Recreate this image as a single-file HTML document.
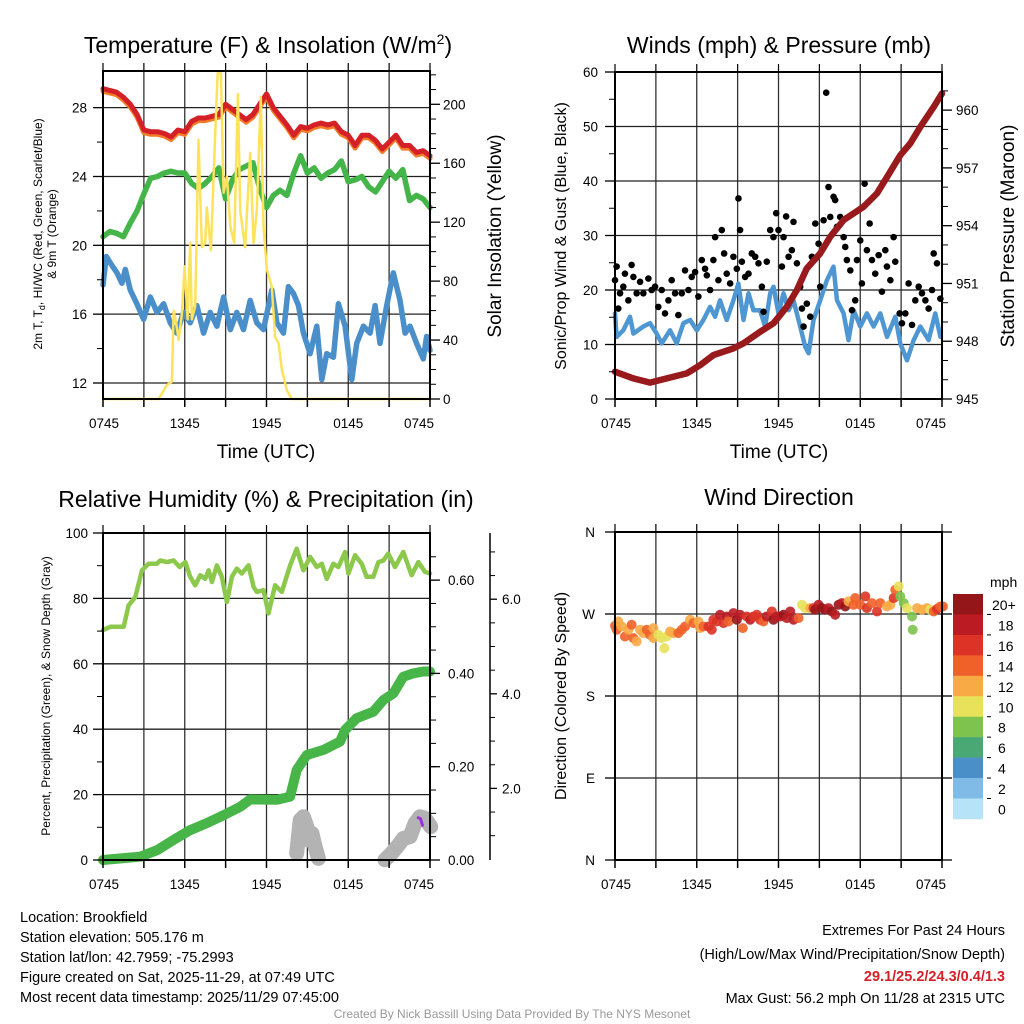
<!DOCTYPE html>
<html><head><meta charset="utf-8"><style>
html,body{margin:0;padding:0;background:#fff;}
svg{display:block;font-family:"Liberation Sans",sans-serif;}
</style></head><body>
<svg id="c" width="1024" height="1024" viewBox="0 0 1024 1024">
<g id="grid"></g>
<g id="marks"></g>
<g id="axes"></g>
<g id="txt">
<text x="268" y="53" font-size="23" text-anchor="middle">Temperature (F) &amp; Insolation (W/m<tspan dy="-9" font-size="14">2</tspan><tspan dy="9">)</tspan></text>
<text x="779" y="53" font-size="23" text-anchor="middle">Winds (mph) &amp; Pressure (mb)</text>
<text x="266" y="507" font-size="23" text-anchor="middle">Relative Humidity (%) &amp; Precipitation (in)</text>
<text x="779" y="505" font-size="23" text-anchor="middle">Wind Direction</text>
<text x="266" y="458" font-size="19" text-anchor="middle">Time (UTC)</text>
<text x="779" y="458" font-size="19" text-anchor="middle">Time (UTC)</text>
<text transform="translate(42,234) rotate(-90)" font-size="12" text-anchor="middle">2m T, T<tspan dy="3" font-size="9">d</tspan><tspan dy="-3">, HI/WC (Red, Green, Scarlet/Blue)</tspan></text>
<text transform="translate(56,234) rotate(-90)" font-size="12" text-anchor="middle">&amp; 9m T (Orange)</text>
<text transform="translate(501,236) rotate(-90)" font-size="19" text-anchor="middle">Solar Insolation (Yellow)</text>
<text transform="translate(566,236) rotate(-90)" font-size="16" text-anchor="middle">Sonic/Prop Wind &amp; Gust (Blue, Black)</text>
<text transform="translate(1014,236) rotate(-90)" font-size="19" text-anchor="middle">Station Pressure (Maroon)</text>
<text transform="translate(50,696) rotate(-90)" font-size="12" text-anchor="middle">Percent, Precipitation (Green), &amp; Snow Depth (Gray)</text>
<text transform="translate(566,696) rotate(-90)" font-size="16" text-anchor="middle">Direction (Colored By Speed)</text>
<text x="990" y="587" font-size="14">mph</text>
<g font-size="14.5">
<text x="20" y="922">Location: Brookfield</text>
<text x="20" y="942">Station elevation: 505.176 m</text>
<text x="20" y="962">Station lat/lon: 42.7959; -75.2993</text>
<text x="20" y="982">Figure created on Sat, 2025-11-29, at 07:49 UTC</text>
<text x="20" y="1002">Most recent data timestamp: 2025/11/29 07:45:00</text>
</g>
<g font-size="14.5" text-anchor="end">
<text x="1005" y="935">Extremes For Past 24 Hours</text>
<text x="1005" y="959">(High/Low/Max Wind/Precipitation/Snow Depth)</text>
<text x="1005" y="981" fill="#d42027" font-weight="bold">29.1/25.2/24.3/0.4/1.3</text>
<text x="1005" y="1003">Max Gust: 56.2 mph On 11/28 at 2315 UTC</text>
</g>
<text x="512" y="1018" font-size="12" fill="#999" text-anchor="middle">Created By Nick Bassill Using Data Provided By The NYS Mesonet</text>
</g>
</svg>
<script>
// ---------- DATA ----------
const halfHours = [0,0.5,1,1.5,2,2.5,3,3.5,4,4.5,5,5.5,6,6.5,7,7.5,8,8.5,9,9.5,10,10.5,11,11.5,12,12.5,13,13.5,14,14.5,15,15.5,16,16.5,17,17.5,18,18.5,19,19.5,20,20.5,21,21.5,22,22.5,23,23.5,24];
const tempRed = [29.1,29.0,28.9,28.6,28.2,27.6,26.7,26.6,26.6,26.5,26.3,26.7,26.6,27.2,27.4,27.4,27.5,27.6,28.2,27.9,27.6,27.3,27.6,28.2,28.8,28.0,27.5,27.0,26.4,26.9,26.8,27.0,27.1,27.0,27.1,26.6,26.4,25.8,26.4,26.4,26.1,25.6,26.0,26.4,25.8,25.8,25.4,25.5,25.2];
const temp9m = [28.95,28.85,28.75,28.45,28.05,27.45,26.55,26.45,26.45,26.35,26.15,26.55,26.45,27.05,27.25,27.25,27.35,27.45,28.05,27.75,27.45,27.15,27.45,28.05,28.65,27.85,27.35,26.85,26.25,26.75,26.65,26.85,26.95,26.85,26.95,26.45,26.25,25.65,26.25,26.25,25.95,25.45,25.85,26.25,25.65,25.65,25.25,25.35,25.05];
const dewGreen = [20.5,20.8,20.7,20.5,21.3,22.0,23.0,23.9,24.0,24.2,24.3,24.2,24.2,23.6,23.3,23.6,24.0,24.5,22.7,23.8,24.4,24.6,24.8,23.3,22.2,22.9,23.2,22.9,24.2,25.2,24.2,24.5,23.9,24.2,24.4,24.9,23.7,23.8,24.0,23.4,23.1,23.7,24.3,23.9,24.4,22.6,22.9,22.7,22.2];
const wcHours = [0,0.24,0.54,1.03,1.39,1.64,2.0,2.49,2.98,3.47,3.96,4.45,4.94,5.42,5.91,6.4,6.89,7.38,7.87,8.36,8.85,9.34,9.82,10.31,10.8,11.29,11.78,12.39,12.76,13.25,13.61,13.98,14.35,14.71,15.2,15.69,16.06,16.42,16.91,17.28,17.77,18.26,18.62,19.11,19.6,19.97,20.33,20.82,21.31,21.8,22.17,22.53,23.02,23.51,23.75,24];
const wcBlue = [17.7,19.35,18.97,18.4,17.8,18.6,17.4,16.6,15.7,17.0,16.1,16.6,15.5,14.9,16.1,15.5,16.5,14.9,16.1,15.3,17.0,15.1,16.1,15.1,16.8,15.5,15.1,17.4,15.5,14.9,17.6,17.2,16.5,14.9,13.7,15.3,12.2,13.7,13.5,16.6,15.3,12.2,14.3,15.3,14.9,16.5,14.3,16.5,18.4,16.8,14.9,15.3,14.3,13.4,14.7,13.9];
const solHours = [0,4.08,4.33,4.69,5.06,5.18,5.38,5.55,5.79,5.99,6.21,6.4,6.52,6.77,7.01,7.26,7.5,7.62,7.92,8.16,8.41,8.65,8.85,9.09,9.34,9.63,9.9,10.07,10.43,10.8,11.05,11.29,11.58,11.78,12.02,12.39,12.63,12.88,13.12,13.49,13.86,24];
const solar = [0,0,3.8,9.5,11.8,60,51,40,58,90,54,106,54,63,176,103,106,130,101,162,221,221,140,151,117,106,207,128,103,167,106,128,205,117,88,76,42,38,20,6,0,0];
const presHours = [0,1.35,2.57,3.80,5.27,6.25,7.22,8.69,9.43,10.65,11.63,12.61,13.35,14.08,15.06,15.8,16.78,18.24,19.22,20.2,20.94,21.67,22.41,23.39,24];
const pressure = [946.42,946.07,945.85,946.07,946.33,946.76,947.28,947.63,947.89,948.49,948.93,949.79,950.66,951.78,952.56,953.43,954.29,954.98,955.67,956.8,957.66,958.27,959.13,960.17,960.87];
const windHours = [0,0.12,0.61,1.1,1.35,2.08,2.57,3.06,3.43,4.04,4.53,5.02,5.51,6.0,6.49,6.98,7.35,7.71,8.2,8.69,9.06,9.43,9.8,10.16,10.65,11.02,11.39,11.63,12.0,12.37,12.74,13.1,13.59,13.96,14.21,14.57,15.06,15.55,16.04,16.29,16.78,17.14,17.51,18.0,18.49,18.98,19.47,19.96,20.57,20.94,21.43,21.92,22.41,23.02,23.51,23.88];
const windSpeed = [15.7,11.4,12.6,15.1,12.0,13.3,13.9,12.0,10.2,12.6,10.2,13.9,14.5,12.6,14.5,16.9,15.1,18.1,14.5,18.1,21.2,14.5,19.4,16.3,16.3,13.3,19.4,20.6,15.7,19.4,16.3,18.1,13.3,9.6,8.4,14.5,18.1,21.8,24.3,18.1,15.7,10.8,16.3,13.3,15.7,13.3,15.7,11.4,15.1,10.2,7.1,10.8,13.3,10.8,15.7,11.4];
const gustHours = [0,0.12,0.24,0.37,0.61,0.73,0.98,1.22,1.35,1.59,
1.84,2.08,2.45,2.69,2.94,3.18,3.43,3.67,3.92,4.16,
4.41,4.65,4.9,5.14,5.39,5.63,5.88,6.12,6.37,6.61,
6.74,6.98,7.22,7.35,7.59,7.84,8.01,8.2,8.45,8.69,
8.94,9.06,9.18,9.31,9.55,9.8,10.04,10.29,10.53,10.78,
10.9,11.14,11.39,11.63,11.83,12.0,12.25,12.37,12.56,12.74,
12.98,13.1,13.35,13.59,13.72,13.84,14.08,14.33,14.45,14.7,
14.94,15.06,15.31,15.5,15.67,15.8,16.04,16.16,16.29,16.53,
16.78,16.9,17.02,17.27,17.39,17.63,17.76,18.0,18.12,18.32,
18.49,18.69,18.86,19.1,19.35,19.59,19.84,19.96,20.21,20.45,
20.57,20.89,21.06,21.31,21.55,21.8,22.04,22.29,22.53,22.78,
23.02,23.27,23.39,23.63,23.88];
const gustSpeed = [21.8,24.3,16.6,19.4,20.6,23.0,18.1,24.6,22.4,19.4,
21.5,19.4,22.1,20.0,20.6,16.9,20.0,15.7,18.1,21.8,
19.4,15.4,19.4,23.6,20.0,22.4,23.3,18.8,25.5,23.9,
22.7,20.0,25.5,29.7,21.8,31.0,26.7,23.0,21.2,26.1,
23.9,36.8,31.0,25.2,22.4,23.0,26.7,26.1,24.9,20.6,
16.0,25.2,31.0,29.7,34.1,31.0,24.3,29.7,33.5,26.1,
27.3,32.5,24.9,20.6,16.6,13.3,17.5,15.1,26.1,32.2,
28.5,20.6,32.8,56.2,38.9,33.4,37.1,36.5,31.6,33.4,
29.7,27.9,25.5,23.6,16.3,18.1,25.5,29.1,21.2,39.5,
27.3,32.2,25.5,23.0,26.4,19.7,27.3,24.3,21.8,29.7,
25.2,15.7,13.9,15.7,21.2,13.6,18.1,20.6,19.4,18.1,
16.6,20.0,26.7,24.9,18.4];
const rhHours = [0,0.54,1.52,1.88,2.37,2.86,3.35,3.96,4.2,4.69,5.18,5.62,6.04,6.4,6.77,7.14,7.5,7.75,7.99,8.36,8.72,9.09,9.46,9.82,10.19,10.68,11.05,11.29,11.78,12.15,12.63,13.12,13.73,14.22,14.71,15.2,15.69,16.06,16.42,16.91,17.28,17.77,18.01,18.5,18.99,19.35,19.84,20.21,20.58,20.94,21.43,22.04,22.65,23.14,23.63,24];
const rh = [70.3,71.3,71.3,77.9,80.4,88.6,90.6,90.6,91.6,91.1,91.6,89.6,91.1,86.6,84.0,87.1,86.0,88.6,85.0,90.1,86.6,78.9,86.6,89.1,87.6,90.1,83.5,82.0,82.5,75.4,84.0,82.0,90.1,95.2,88.6,92.7,89.6,90.6,86.0,90.6,89.6,94.2,87.6,93.2,90.6,86.6,86.6,91.1,91.6,93.7,89.6,94.2,87.1,91.1,88.1,87.6];
const precipHours = [0,1.52,2.74,3.96,5.18,6.4,7.62,8.85,10.07,10.8,12.76,13.73,14.22,14.96,16.18,17.4,17.77,18.62,19.84,20.58,21.31,22.04,22.77,23.51,24];
const precip = [0,0.004,0.007,0.021,0.043,0.064,0.079,0.096,0.114,0.13,0.129,0.136,0.193,0.225,0.236,0.254,0.279,0.304,0.318,0.343,0.357,0.393,0.4,0.404,0.404];
const snowHours = [14.22,14.47,14.71,14.96,15.08,15.33,15.57,15.81,null,20.7,21.19,21.68,22.04,22.53,22.9,23.26,23.63,24.05];
const snowDepth = [0.63,1.33,1.40,1.19,0.91,1.05,0.77,0.52,null,0.49,0.63,0.80,0.94,0.98,1.26,1.40,1.37,1.19];
const snowAltHours = [23.14,23.3,23.45];
const snowAlt = [1.38,1.36,1.22];
const dirHours = [0,0.12,0.24,0.49,0.73,0.98,1.22,1.35,1.59,1.84,2.08,2.33,2.57,2.82,2.82,3.18,3.43,3.62,3.8,4.04,4.29,4.65,4.9,5.14,5.51,5.76,6.12,6.25,6.49,6.86,7.1,7.22,7.47,7.71,7.96,8.2,8.33,8.69,8.94,9.18,9.38,9.67,9.92,10.16,10.41,10.65,10.9,11.14,11.51,11.63,11.88,12.12,12.37,12.61,12.86,13.1,13.47,13.72,13.96,14.33,14.57,14.7,14.94,15.18,15.43,15.67,15.92,16.16,16.41,16.65,16.9,17.14,17.51,17.63,18.0,18.37,18.49,18.86,19.23,19.47,19.96,20.21,20.45,20.57,20.82,20.94,21.19,21.43,21.8,21.85,22.17,22.53,22.9,23.14,23.39,23.63,23.88,24.07];
const dirDeg = [257.1,252.7,261.8,256.3,245.3,252.7,258.2,243.5,239.9,252.7,249.0,252.7,247.2,254.5,243.5,247.2,243.5,232.5,245.3,250.8,249.0,249.0,252.7,256.3,263.7,260.0,261.8,254.5,256.3,256.3,252.7,263.7,261.8,269.2,260.0,267.3,261.8,271.0,263.7,269.2,254.5,267.3,263.7,267.3,269.2,263.7,261.8,267.3,272.8,263.7,267.3,267.3,269.2,265.5,272.8,263.7,265.5,280.1,276.5,276.5,276.5,274.7,280.1,276.5,274.7,276.5,272.8,269.2,280.1,282.0,278.3,283.8,280.1,287.5,280.1,289.3,276.5,282.0,272.8,282.0,278.3,280.1,287.5,296.6,300.3,289.3,282.0,276.5,267.3,252.7,276.5,274.7,276.5,274.7,272.8,275.5,278.3,278.3];
const dirSpeed = [15,15,13,13,15,13,15,15,13,13,13,14,15,12,13,11,11,10,11,13,13,15,15,15,13,15,13,13,15,17,17,16,16,19,16,18,15,18,20,19,15,17,18,17,16,17,14,18,17,20,18,19,20,18,18,19,14,11,11,12,16,20,19,20,20,19,20,19,20,19,20,13,15,14,15,17,16,15,16,15,12,13,17,14,11,8,9,10,8,8,13,13,13,11,15,16,15,14];
const cbLabels = ["20+","18","16","14","12","10","8","6","4","2","0"];
const cbColors = ["#951618","#bb1c23","#dc3326","#f06129","#f8aa45","#e8e25a","#7dc34d","#4aa875","#4b8fc8","#7fbbe6","#b6e3f8"];
const xTickLabels = ["0745","1345","1945","0145","0745"];
const tempTicks = [12,16,20,24,28];
const solTicks = [0,40,80,120,160,200];
const windTicks = [0,10,20,30,40,50,60];
const presTicks = [945,948,951,954,957,960];
const rhTicks = [0,20,40,60,80,100];
const prTicks = ["0.00","0.20","0.40","0.60"];
const snowTicks = ["2.0","4.0","6.0"];
const dirTicks = ["N","E","S","W","N"];

// ---------- HELPERS ----------
const NS="http://www.w3.org/2000/svg";
const G=document.getElementById('grid'),M=document.getElementById('marks'),A=document.getElementById('axes'),T=document.getElementById('txt');
function mk(parent,tag,at){const e=document.createElementNS(NS,tag);for(const k in at)e.setAttribute(k,at[k]);parent.appendChild(e);return e;}
function lin(d0,d1,r0,r1){return v=>r0+(v-d0)/(d1-d0)*(r1-r0);}
function pathOf(xs,ys,fx,fy){let d='',pen=false;for(let i=0;i<xs.length;i++){if(xs[i]==null||ys[i]==null){pen=false;continue;}d+=(pen?'L':'M')+fx(xs[i]).toFixed(1)+','+fy(ys[i]).toFixed(1);pen=true;}return d;}
function line(parent,d,col,w,name){const p=mk(parent,'path',{d:d,fill:'none',stroke:col,'stroke-width':w,'stroke-linejoin':'round','stroke-linecap':'round'});


return p;}
function txt(s,x,y,size,anchor,name){const t=mk(T,'text',{x:x,y:y,'font-size':size,'text-anchor':anchor});t.textContent=s;


return t;}
function seg(parent,x1,y1,x2,y2,col,w){return mk(parent,'line',{x1:x1,y1:y1,x2:x2,y2:y2,stroke:col,'stroke-width':w});}

function panelBase(x0,x1,y0,y1,fx,name){
  for(let h=3;h<24;h+=3){const l=seg(G,fx(h),y0,fx(h),y1,'#333',1.3);
    
    }
  for(let h=0;h<=24;h+=3){seg(A,fx(h),y1,fx(h),y1+8,'#000',1.5);seg(A,fx(h),y0,fx(h),y0-8,'#000',1.2);}
  xTickLabels.forEach((s,i)=>{const h=i*6;let x=fx(h);if(i==0)x+=1;if(i==4)x-=11;txt(s,x,y1+29,13.5,'middle',name+'-x-tick-label');});
  const r=mk(A,'rect',{x:x0,y:y0,width:x1-x0,height:y1-y0,fill:'none',stroke:'#000','stroke-width':2});
  
  
}

// ---------- PANEL 1 ----------
{const x0=103,x1=430,y0=71,y1=399;
 const fx=lin(0,24,x0,x1), fy=lin(11.07,30.13,y1,y0), fs=lin(0,222.6,y1,y0);
 panelBase(x0,x1,y0,y1,fx,'temp');
 tempTicks.forEach(v=>{seg(G,x0,fy(v),x1,fy(v),'#222',1.3);seg(A,x0-10,fy(v),x0,fy(v),'#000',1.3);txt(String(v),x0-16,fy(v)+5,13.5,'end','temp-y-tick-label');});
 for(let v=14;v<30;v+=4)seg(A,x0-6,fy(v),x0,fy(v),'#000',1);
 solTicks.forEach(v=>{seg(A,x1,fs(v),x1+10,fs(v),'#000',1.3);txt(String(v),x1+13,fs(v)+5,13.5,'start','solar-y-tick-label');});
 for(let v=10;v<222;v+=10)if(v%40)seg(A,x1,fs(v),x1+6,fs(v),'#000',1);
 line(M,pathOf(halfHours,temp9m,fx,fy),'#f47b28',5,'temp-9m-line');
 line(M,pathOf(halfHours,tempRed,fx,fy),'#d42027',5,'temp-2m-line');
 line(M,pathOf(halfHours,dewGreen,fx,fy),'#44b549',5.5,'dewpoint-line');
 line(M,pathOf(wcHours,wcBlue,fx,fy),'#4a8fc9',5.5,'windchill-line');
 line(M,pathOf(solHours,solar,fx,fs),'#fde25b',2.5,'solar-line');
}
// ---------- PANEL 2 ----------
{const x0=615,x1=942,y0=72,y1=399;
 const fx=lin(0,24,x0,x1), fy=lin(0,60,y1,y0), fp=lin(945,961.98,y1,y0);
 panelBase(x0,x1,y0,y1,fx,'wind');
 windTicks.forEach(v=>{if(v>0&&v<60)seg(G,x0,fy(v),x1,fy(v),'#222',1.3);seg(A,x0-10,fy(v),x0,fy(v),'#000',1.3);txt(String(v),x0-17,fy(v)+5,13.5,'end','wind-y-tick-label');});
 for(let v=5;v<60;v+=10)seg(A,x0-6,fy(v),x0,fy(v),'#000',1);
 presTicks.forEach(v=>{seg(A,x1,fp(v),x1+10,fp(v),'#000',1.3);txt(String(v),x1+14,fp(v)+5,13.5,'start','pressure-y-tick-label');});
 for(let v=946;v<962;v++)if((v-945)%3)seg(A,x1,fp(v),x1+6,fp(v),'#000',1);
 line(M,pathOf(windHours,windSpeed,fx,fy),'#4f97d2',4.5,'sonic-wind-line');
 gustHours.forEach((h,i)=>{const c=mk(M,'circle',{cx:fx(h),cy:fy(gustSpeed[i]),r:3.3,fill:'#000'});
   
   });
 line(M,pathOf(presHours,pressure,fx,fp),'#981a1c',6.5,'pressure-line');
}
// ---------- PANEL 3 ----------
{const x0=103,x1=430,y0=533,y1=860;
 const fx=lin(0,24,x0,x1), fy=lin(0,100,y1,y0), fr=lin(0,0.701,y1,y0), fsn=lin(0.486,7.4,y1,y0);
 panelBase(x0,x1,y0,y1,fx,'humidity');
 rhTicks.forEach(v=>{if(v>0&&v<100)seg(G,x0,fy(v),x1,fy(v),'#222',1.3);seg(A,x0-10,fy(v),x0,fy(v),'#000',1.3);txt(String(v),x0-15,fy(v)+5,13.5,'end','humidity-y-tick-label');});
 for(let v=10;v<100;v+=20)seg(A,x0-6,fy(v),x0,fy(v),'#000',1);
 prTicks.forEach(s=>{const v=parseFloat(s);seg(A,x1,fr(v),x1+10,fr(v),'#000',1.3);txt(s,x1+18,fr(v)+5,13.5,'start','precip-y-tick-label');});
 for(let v=0.05;v<0.7;v+=0.05)seg(A,x1,fr(v),x1+6,fr(v),'#000',1);
 const ax=seg(A,490,y0,490,y1,'#000',1.5);
 
 
 snowTicks.forEach(s=>{const v=parseFloat(s);seg(A,490,fsn(v),497,fsn(v),'#000',1.3);txt(s,502,fsn(v)+5,13.5,'start','snow-y-tick-label');});
 for(let v=1;v<7.4;v+=0.5)if(v%2)seg(A,490,fsn(v),495,fsn(v),'#000',1);
 line(M,pathOf(snowHours,snowDepth,fx,fsn),'#b3b3b3',15,'snow-depth-line');
 line(M,pathOf(snowAltHours,snowAlt,fx,fsn),'#9b30e0',3,'snow-depth-alt-line');
 line(M,pathOf(rhHours,rh,fx,fy),'#8cc84b',4.5,'humidity-line');
 line(M,pathOf(precipHours,precip,fx,fr),'#47b548',10,'precip-line');
}
// ---------- PANEL 4 ----------
{const x0=615,x1=942,y0=532,y1=860;
 const fx=lin(0,24,x0,x1), fy=lin(0,360,y1,y0);
 panelBase(x0,x1,y0,y1,fx,'direction');
 dirTicks.forEach((s,i)=>{const v=i*90;if(v>0&&v<360)seg(G,x0,fy(v),x1,fy(v),'#222',1.3);seg(A,x0-10,fy(v),x0,fy(v),'#000',1.3);seg(A,x1,fy(v),x1+10,fy(v),'#000',1.3);txt(s,x0-20,fy(v)+5,13.5,'end','direction-y-tick-label');});
 function col(s){let k=Math.floor(s/2);if(k>10)k=10;if(k<0)k=0;return cbColors[10-k];}
 dirHours.forEach((h,i)=>{const c=mk(M,'circle',{cx:fx(Math.max(0,h)),cy:fy(dirDeg[i]),r:5,fill:col(dirSpeed[i]),'fill-opacity':0.9});
   
   });
 const cbx=953,cby=594,cbh=20.45;
 cbColors.forEach((c,i)=>{const r=mk(A,'rect',{x:cbx,y:cby+i*cbh,width:30,height:cbh+0.3,fill:c});
   
   
   if(i>0)seg(A,cbx+34,cby+i*cbh,cbx+38,cby+i*cbh,'#000',1);
   txt(cbLabels[i],i==0?992:998,cby+i*cbh+16,14,'start','colorbar-label');});
}
</script>
</body></html>
